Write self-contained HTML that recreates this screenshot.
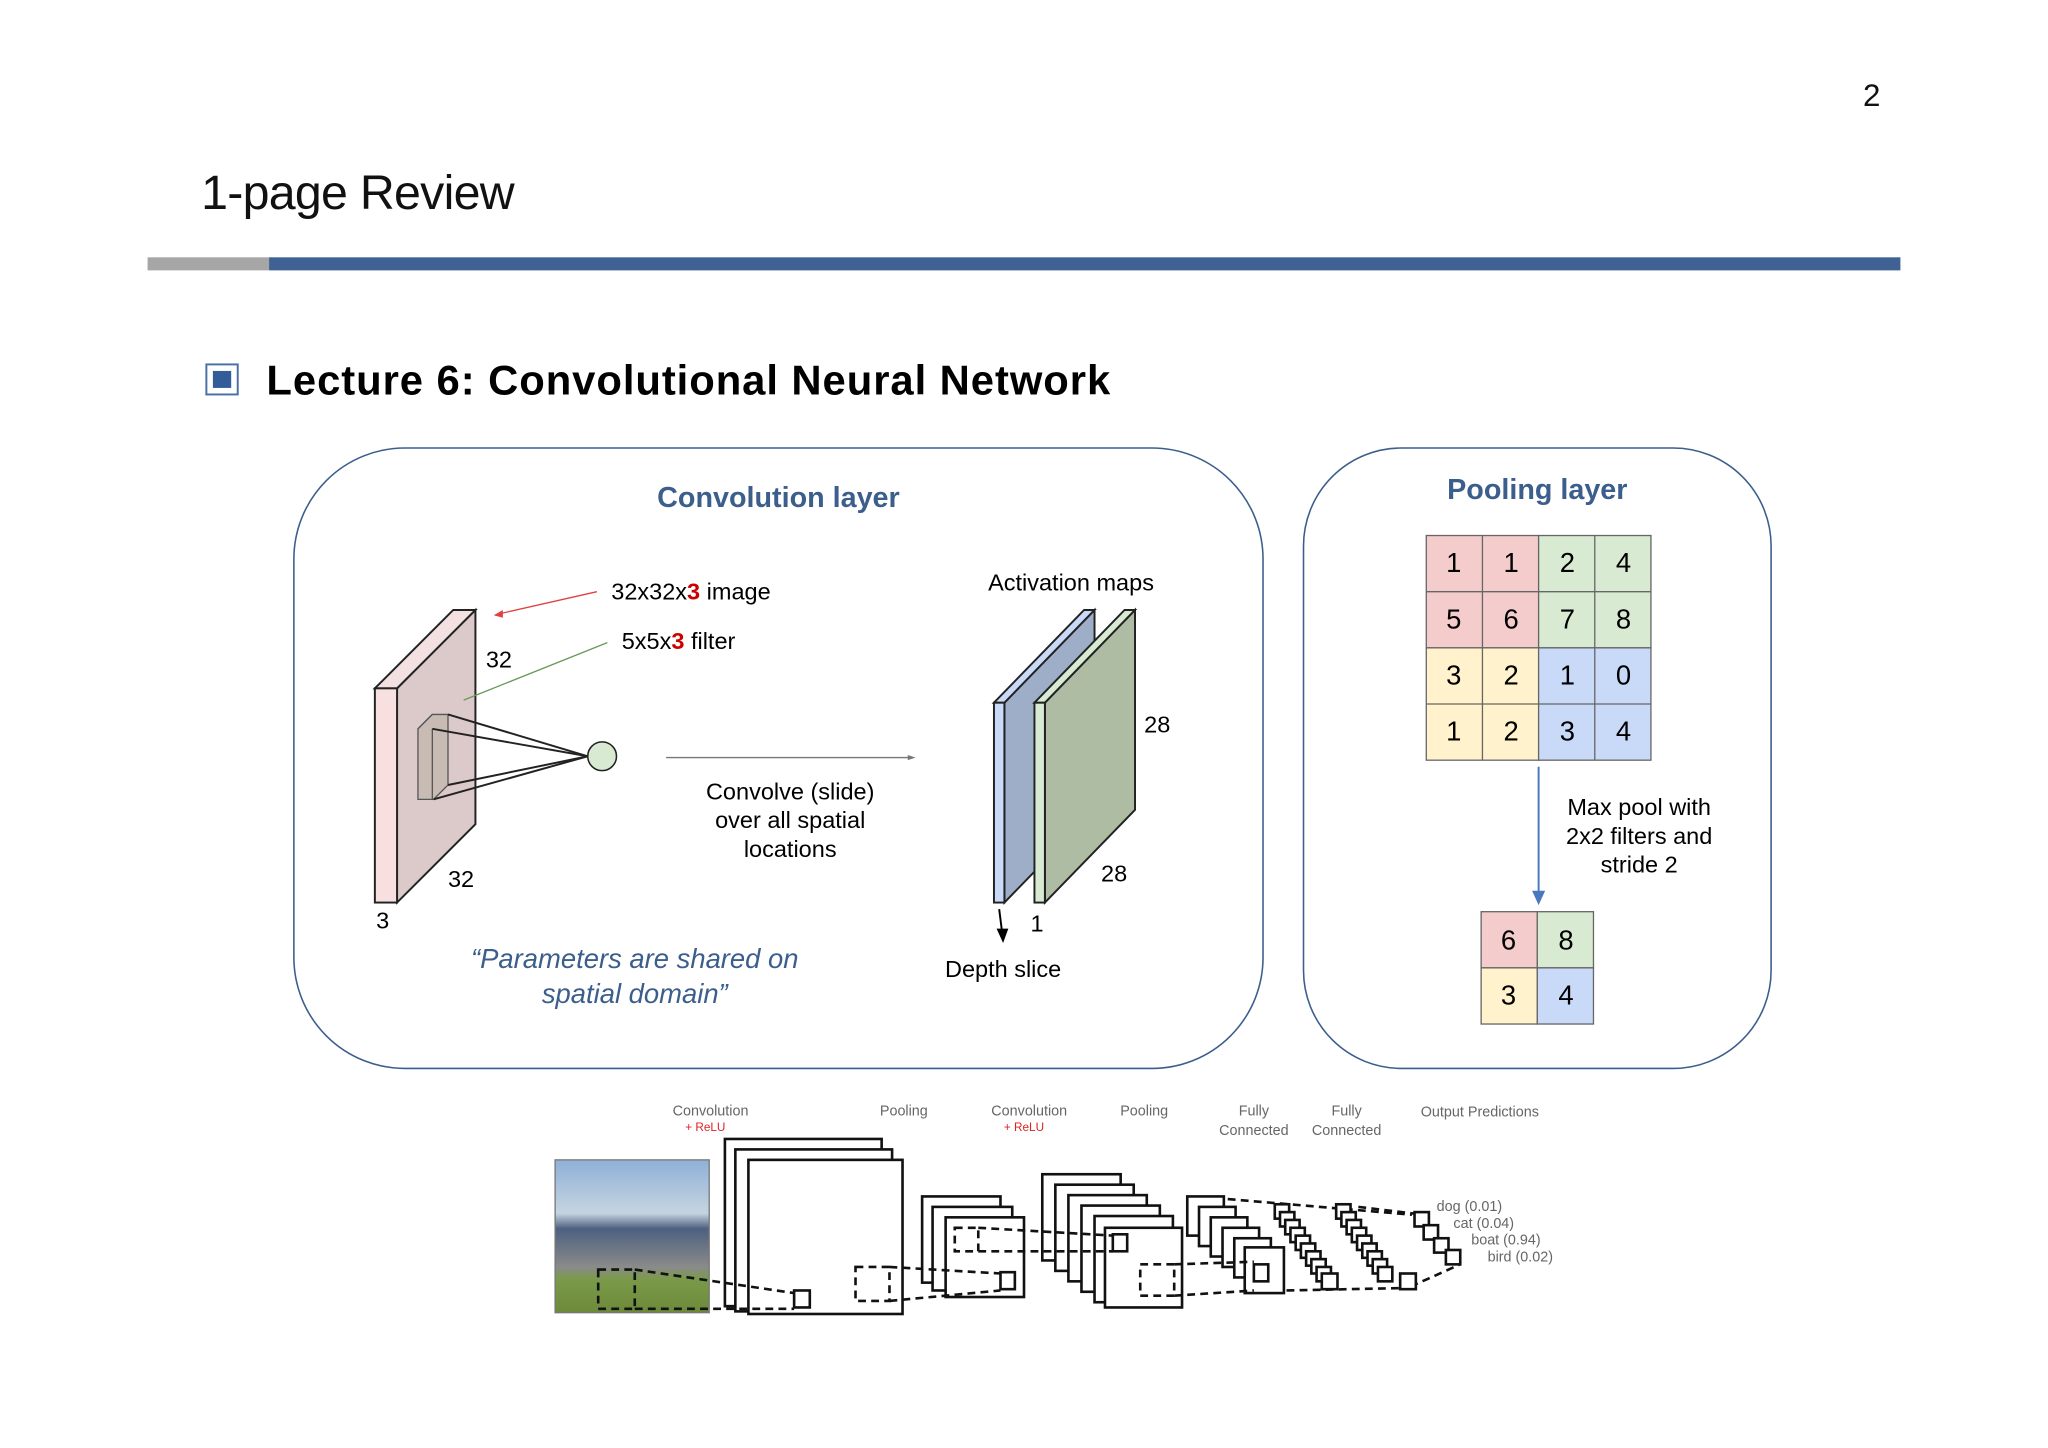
<!DOCTYPE html>
<html><head><meta charset="utf-8"><style>html,body{margin:0;padding:0;background:#fff}svg{display:block}</style></head>
<body>
<svg width="2048" height="1448" viewBox="0 0 1568 1108.6" preserveAspectRatio="none" xmlns="http://www.w3.org/2000/svg" font-family="Liberation Sans, sans-serif">
<rect width="1568" height="1108.6" fill="#fff"/>
<text x="1433" y="81" font-size="24" text-anchor="middle" fill="#111">2</text>
<text x="154" y="160" font-size="37" fill="#111" textLength="240">1-page Review</text>
<rect x="113" y="197" width="93" height="10" fill="#a6a6a6"/>
<rect x="206" y="197" width="1249" height="10" fill="#3f6194"/>
<rect x="158" y="279" width="24" height="23" fill="#fff" stroke="#4a6fa5" stroke-width="1.5"/>
<rect x="163" y="284" width="14" height="13" fill="#335d99"/>
<text x="204" y="302" font-size="32" font-weight="bold" fill="#000" textLength="646">Lecture 6: Convolutional Neural Network</text>

<rect x="225" y="343" width="742" height="475" rx="85" fill="#fff" stroke="#3b5e8c" stroke-width="1.2"/>
<text x="596" y="388" font-size="22" font-weight="bold" fill="#3b5e8c" text-anchor="middle">Convolution layer</text>
<polygon points="304,527 364,467 364,631 304,691" fill="#dcc9ca" stroke="#222" stroke-width="1.5"/>
<polygon points="287,527 347,467 364,467 304,527" fill="#f3e0e0" stroke="#222" stroke-width="1.5"/>
<rect x="287" y="527" width="17" height="164" fill="#f8dfe0" stroke="#222" stroke-width="1.5"/>
<polygon points="320,558 331,547 343,547 343,601 332,612 320,612" fill="#c8bbb4" stroke="#555" stroke-width="1"/>
<line x1="331" y1="558" x2="331" y2="612" stroke="#555"/>
<line x1="320" y1="558" x2="331" y2="547" stroke="#555"/>
<g stroke="#222" stroke-width="1.5">
<line x1="343" y1="547" x2="450" y2="579"/><line x1="331" y1="558" x2="450" y2="579"/>
<line x1="343" y1="601" x2="450" y2="579"/><line x1="332" y1="612" x2="450" y2="579"/>
</g>
<circle cx="461" cy="579" r="11" fill="#d9ead3" stroke="#222" stroke-width="1.2"/>
<text x="382" y="511" font-size="18" text-anchor="middle">32</text>
<text x="353" y="679" font-size="18" text-anchor="middle">32</text>
<text x="293" y="711" font-size="18" text-anchor="middle">3</text>
<line x1="457" y1="453" x2="382" y2="470" stroke="#e04040" stroke-width="1"/>
<polygon points="378,471 385,467 385,473" fill="#e04040"/>
<line x1="465" y1="492" x2="355" y2="536" stroke="#6a9a5a" stroke-width="1"/>
<text x="468" y="459" font-size="18">32x32x<tspan fill="#c00" font-weight="bold">3</tspan> image</text>
<text x="476" y="497" font-size="18">5x5x<tspan fill="#c00" font-weight="bold">3</tspan> filter</text>
<line x1="510" y1="580" x2="697" y2="580" stroke="#777" stroke-width="1"/>
<polygon points="701,580 695,578 695,582" fill="#777"/>
<text font-size="18" text-anchor="middle"><tspan x="605" y="612">Convolve (slide)</tspan><tspan x="605" y="634">over all spatial</tspan><tspan x="605" y="656">locations</tspan></text>
<text x="820" y="452" font-size="18" text-anchor="middle">Activation maps</text>
<polygon points="769,538 838,467 838,620 769,691" fill="#9eaec8" stroke="#222" stroke-width="1.5"/>
<polygon points="761,538 830,467 838,467 769,538" fill="#c9daf8" stroke="#222" stroke-width="1.5"/>
<rect x="761" y="538" width="8" height="153" fill="#c9daf8" stroke="#222" stroke-width="1.5"/>
<polygon points="800,538 869,467 869,620 800,691" fill="#aebca4" stroke="#222" stroke-width="1.5"/>
<polygon points="792,538 861,467 869,467 800,538" fill="#d9ead3" stroke="#222" stroke-width="1.5"/>
<rect x="792" y="538" width="8" height="153" fill="#d9ead3" stroke="#222" stroke-width="1.5"/>
<text x="886" y="561" font-size="18" text-anchor="middle">28</text>
<text x="853" y="675" font-size="18" text-anchor="middle">28</text>
<text x="794" y="713" font-size="18" text-anchor="middle">1</text>
<line x1="765" y1="696" x2="767" y2="712" stroke="#000" stroke-width="1.5"/>
<polygon points="763,711 772,711 768,722" fill="#000"/>
<text x="768" y="748" font-size="18" text-anchor="middle">Depth slice</text>
<text font-size="21" font-style="italic" fill="#3b5e8c" text-anchor="middle"><tspan x="486" y="741">“Parameters are shared on</tspan><tspan x="486" y="768">spatial domain”</tspan></text>

<rect x="998" y="343" width="358" height="475" rx="75" fill="#fff" stroke="#3b5e8c" stroke-width="1.2"/>
<text x="1177" y="382" font-size="22" font-weight="bold" fill="#3b5e8c" text-anchor="middle">Pooling layer</text>
<g stroke="#666" stroke-width="1">
<rect x="1092" y="410" width="86" height="86" fill="#f4cccc"/>
<rect x="1178" y="410" width="86" height="86" fill="#d9ead3"/>
<rect x="1092" y="496" width="86" height="86" fill="#fff2cc"/>
<rect x="1178" y="496" width="86" height="86" fill="#c9daf8"/>
<line x1="1135" y1="410" x2="1135" y2="582"/><line x1="1221" y1="410" x2="1221" y2="582"/>
<line x1="1092" y1="453" x2="1264" y2="453"/><line x1="1092" y1="539" x2="1264" y2="539"/>
</g>
<g font-size="21" text-anchor="middle">
<text x="1113" y="438">1</text><text x="1157" y="438">1</text><text x="1200" y="438">2</text><text x="1243" y="438">4</text>
<text x="1113" y="481">5</text><text x="1157" y="481">6</text><text x="1200" y="481">7</text><text x="1243" y="481">8</text>
<text x="1113" y="524">3</text><text x="1157" y="524">2</text><text x="1200" y="524">1</text><text x="1243" y="524">0</text>
<text x="1113" y="567">1</text><text x="1157" y="567">2</text><text x="1200" y="567">3</text><text x="1243" y="567">4</text>
</g>
<line x1="1178" y1="587" x2="1178" y2="684" stroke="#4a78c0" stroke-width="1.5"/>
<polygon points="1173,682 1183,682 1178,693" fill="#4a78c0"/>
<text font-size="18" text-anchor="middle"><tspan x="1255" y="624">Max pool with</tspan><tspan x="1255" y="646">2x2 filters and</tspan><tspan x="1255" y="668">stride 2</tspan></text>
<g stroke="#666" stroke-width="1">
<rect x="1134" y="698" width="43" height="43" fill="#f4cccc"/>
<rect x="1177" y="698" width="43" height="43" fill="#d9ead3"/>
<rect x="1134" y="741" width="43" height="43" fill="#fff2cc"/>
<rect x="1177" y="741" width="43" height="43" fill="#c9daf8"/>
</g>
<g font-size="21" text-anchor="middle"><text x="1155" y="727">6</text><text x="1199" y="727">8</text><text x="1155" y="769">3</text><text x="1199" y="769">4</text></g>

<g font-size="11" fill="#666" text-anchor="middle">
<text x="544" y="854">Convolution</text><text x="540" y="866" fill="#d22" font-size="9">+ ReLU</text>
<text x="692" y="854">Pooling</text>
<text x="788" y="854">Convolution</text><text x="784" y="866" fill="#d22" font-size="9">+ ReLU</text>
<text x="876" y="854">Pooling</text>
<text x="960" y="854">Fully</text><text x="960" y="869">Connected</text>
<text x="1031" y="854">Fully</text><text x="1031" y="869">Connected</text>
<text x="1133" y="855">Output Predictions</text>
<text x="1125" y="927">dog (0.01)</text><text x="1136" y="940">cat (0.04)</text>
<text x="1153" y="953">boat (0.94)</text><text x="1164" y="966">bird (0.02)</text>
</g>
<defs><linearGradient id="ph" x1="0" y1="0" x2="0" y2="1">
<stop offset="0" stop-color="#8fb0d8"/><stop offset="0.35" stop-color="#c6d4e0"/><stop offset="0.45" stop-color="#4d6080"/><stop offset="0.7" stop-color="#8a8a8a"/><stop offset="0.78" stop-color="#7a9a4a"/><stop offset="1" stop-color="#6d8a3a"/></linearGradient></defs>
<rect x="425" y="888" width="118" height="117" fill="url(#ph)" stroke="#777"/>
<g fill="#fff" stroke="#111" stroke-width="2">
<rect x="555" y="872" width="120" height="128"/><rect x="563" y="880" width="120" height="124"/><rect x="573" y="888" width="118" height="118"/>
<rect x="706" y="916" width="60" height="66"/><rect x="714" y="924" width="61" height="64"/><rect x="724" y="932" width="60" height="61"/>
<rect x="798" y="899" width="60" height="66"/><rect x="808" y="907" width="60" height="66"/><rect x="818" y="915" width="60" height="66"/><rect x="828" y="923" width="60" height="66"/><rect x="838" y="931" width="60" height="66"/><rect x="846" y="940" width="59" height="61"/>
<rect x="909" y="916" width="28" height="30"/><rect x="918" y="924" width="28" height="30"/><rect x="927" y="932" width="28" height="30"/><rect x="936" y="940" width="28" height="30"/><rect x="945" y="948" width="28" height="30"/><rect x="953" y="955" width="30" height="35"/>
</g>
<g fill="none" stroke="#111" stroke-width="2" stroke-dasharray="6,4">
<rect x="458" y="972" width="28" height="30"/><line x1="486" y1="972" x2="608" y2="990"/><line x1="486" y1="1002" x2="608" y2="1002"/>
<rect x="655" y="970" width="26" height="26"/><line x1="681" y1="970" x2="766" y2="975"/><line x1="681" y1="996" x2="766" y2="988"/>
<rect x="731" y="940" width="18" height="18"/><line x1="749" y1="940" x2="852" y2="946"/><line x1="749" y1="958" x2="852" y2="958"/>
<rect x="873" y="968" width="26" height="24"/><line x1="899" y1="968" x2="960" y2="966"/><line x1="899" y1="992" x2="960" y2="988"/>
<line x1="940" y1="918" x2="1081" y2="930"/><line x1="985" y1="988" x2="1081" y2="986"/>
<line x1="1040" y1="924" x2="1090" y2="930"/><line x1="1080" y1="985" x2="1118" y2="968"/>
</g>
<g fill="#fff" stroke="#111" stroke-width="2">
<rect x="976" y="922" width="11" height="11"/><rect x="980" y="928" width="11" height="11"/><rect x="984" y="934" width="11" height="11"/><rect x="988" y="940" width="11" height="11"/><rect x="992" y="946" width="11" height="11"/><rect x="996" y="952" width="11" height="11"/><rect x="1000" y="958" width="11" height="11"/><rect x="1004" y="964" width="11" height="11"/><rect x="1008" y="970" width="11" height="11"/><rect x="1012" y="975" width="12" height="12"/>
<rect x="1023" y="922" width="11" height="11"/><rect x="1027" y="928" width="11" height="11"/><rect x="1031" y="934" width="11" height="11"/><rect x="1035" y="940" width="11" height="11"/><rect x="1039" y="946" width="11" height="11"/><rect x="1043" y="952" width="11" height="11"/><rect x="1047" y="958" width="11" height="11"/><rect x="1051" y="964" width="11" height="11"/><rect x="1055" y="970" width="11" height="11"/><rect x="1072" y="975" width="12" height="12"/>
<rect x="1083" y="928" width="11" height="11"/><rect x="1090" y="938" width="11" height="11"/><rect x="1098" y="948" width="11" height="11"/><rect x="1107" y="957" width="11" height="11"/>
</g>
<rect x="608" y="988" width="12" height="13" fill="#fff" stroke="#111" stroke-width="2"/>
<rect x="766" y="974" width="11" height="13" fill="#fff" stroke="#111" stroke-width="2"/>
<rect x="852" y="945" width="11" height="13" fill="#fff" stroke="#111" stroke-width="2"/>
<rect x="960" y="968" width="11" height="13" fill="#fff" stroke="#111" stroke-width="2"/>
</svg>
</body></html>
